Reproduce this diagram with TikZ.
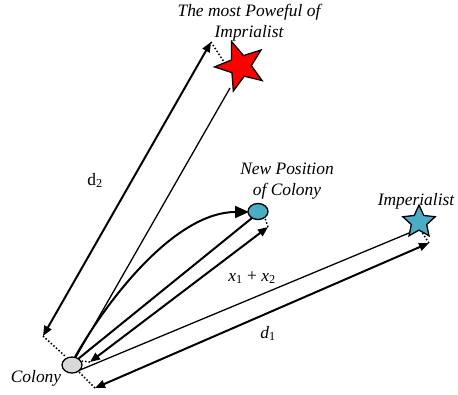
\documentclass[tikz,border=0pt]{standalone}
\usepackage{fontspec}
\setmainfont{Liberation Serif}
\usetikzlibrary{shapes.geometric,arrows.meta}
\definecolor{tealfill}{HTML}{4BACC6}
\definecolor{greyfill}{HTML}{D9D9D9}
\begin{document}
\begin{tikzpicture}[x=1bp,y=-1bp,
  lab/.style={font=\fontsize{17.5}{20}\selectfont\itshape, inner sep=0pt, anchor=base},
  mlab/.style={font=\fontsize{17.5}{20}\selectfont, inner sep=0pt, anchor=base},
  thickln/.style={line width=2bp},
  thinln/.style={line width=1.3bp},
  dimarrow/.style={line width=2bp, {Triangle[length=10bp,width=8bp]}-{Triangle[length=10bp,width=8bp]}},
  dotln/.style={line width=1.5bp, dash pattern=on 1.5bp off 2bp},
  blob/.style={ellipse, draw, line width=1.3bp, minimum width=20bp, minimum height=16bp, inner sep=0pt},
  starnode/.style={star, star points=5, draw, line width=1.3bp, inner sep=0pt},
]
\useasboundingbox (0,0) rectangle (458,394);

% endpoints
\coordinate (cRed) at (76,357);
\coordinate (redB) at (230,88);
\coordinate (d2a) at (43,336);
\coordinate (d2b) at (211,42);
\coordinate (cDotA) at (65,356);
\coordinate (redDot) at (224,62);
\coordinate (cCurve) at (75,357);
\coordinate (npCurve) at (249,212);
\coordinate (cLine) at (78,359);
\coordinate (npLine) at (252,218);
\coordinate (xa) at (90,362);
\coordinate (xb) at (268,227);
\coordinate (cDotB) at (82,361);
\coordinate (npDot) at (265,218);
\coordinate (cBlue) at (80,370);
\coordinate (blueB) at (409,233);
\coordinate (d1a) at (95,388);
\coordinate (d1b) at (429,243);
\coordinate (cDotC) at (79,372);
\coordinate (blueDot) at (421,231);

% connectors
\draw[thinln] (cRed) -- (redB);
\draw[dimarrow] (d2a) -- (d2b);
\draw[dotln] (d2a) -- (cDotA);
\draw[dotln] (d2b) -- (redDot);
\draw[thickln, -{Triangle[length=14bp,width=12bp]}] (cCurve) .. controls (112,292) and (178,212) .. (npCurve);
\draw[thickln] (cLine) -- (npLine);
\draw[dimarrow] (xa) -- (xb);
\draw[dotln] (xa) -- (cDotB);
\draw[dotln] (xb) -- (npDot);
\draw[thinln] (cBlue) -- (blueB);
\draw[dimarrow] (d1a) -- (d1b);
\draw[dotln] (d1a) -- (cDotC);
\draw[dotln] (d1b) -- (blueDot);

% shapes
\node[blob, fill=greyfill] (colony) at (72,365) {};
\node[blob, fill=tealfill] (newpos) at (258,211.5) {};
\node[starnode, star point ratio=2.4, minimum size=52bp, fill=red, rotate=20] (redstar) at (240.5,66) {};
\node[starnode, star point ratio=2.1, minimum size=34bp, fill=tealfill] (bluestar) at (419,222) {};

% labels
\node[lab] (t1) at (249,16) {The most Poweful of};
\node[lab] (t2) at (249,37) {Imprialist};
\node[lab] (t3) at (287,174) {New Position};
\node[lab] (t4) at (287,195) {of Colony};
\node[lab] (t5) at (416,205) {Imperialist};
\node[lab] (t6) at (36,382) {Colony};
\node[mlab] (ld2) at (95,185) {d\textsubscript{2}};
\node[mlab] (lx) at (252,281) {\textit{x}\textsubscript{1} + \textit{x}\textsubscript{2}};
\node[mlab] (ld1) at (268,338) {\textit{d}\textsubscript{1}};
\end{tikzpicture}
\end{document}
